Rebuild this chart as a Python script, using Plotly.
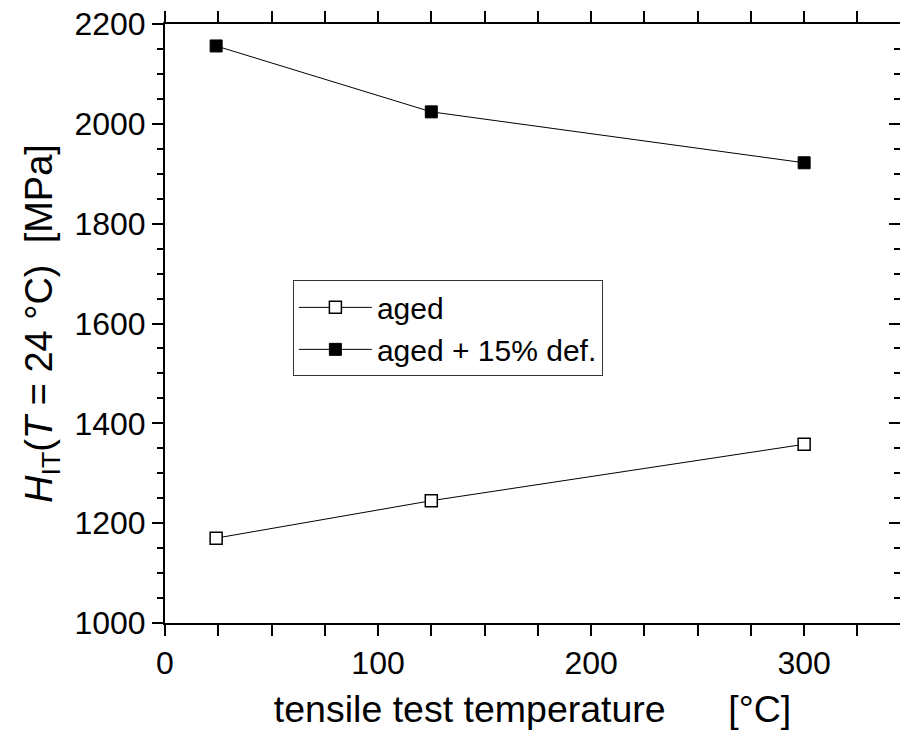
import plotly.graph_objects as go

temperature = [24, 125, 300]
aged = [1170, 1245, 1358]
aged_def = [2156, 2024, 1922]

series_names = ["aged", "aged + 15% def."]

NB = "\u00a0"
x_title = "tensile test temperature" + NB * 6 + "[°C]"
y_title = "<i>H</i><sub>IT</sub>(<i>T</i> = 24 °C)" + NB * 2 + "[MPa]"

FONT = "Liberation Sans, Arial, sans-serif"

fig = go.Figure()
fig.add_trace(go.Scatter(
    x=temperature, y=aged, name=series_names[0], mode="lines+markers",
    line=dict(color="black", width=1),
    marker=dict(symbol="square", size=12, color="white", line=dict(color="black", width=1.5)),
))
fig.add_trace(go.Scatter(
    x=temperature, y=aged_def, name=series_names[1], mode="lines+markers",
    line=dict(color="black", width=1),
    marker=dict(symbol="square", size=12, color="black", line=dict(color="black", width=1)),
))

axis_common = dict(
    showgrid=False, zeroline=False, linecolor="black", linewidth=2,
    tickcolor="black", tickwidth=2, ticklen=11, automargin=False,
)
label_font = dict(family=FONT, size=32, color="black")

# page body has an 8px margin, so the figure is sized to fit inside the window
fig.update_layout(
    width=893, height=724,
    margin=dict(l=157, r=1, t=16, b=109),
    paper_bgcolor="white", plot_bgcolor="white",
    font=dict(family=FONT, color="black"),
    showlegend=True,
    legend=dict(
        x=0.174, y=0.572, xanchor="left", yanchor="top",
        bgcolor="white", bordercolor="#333333", borderwidth=1,
        font=dict(family=FONT, size=30, color="black"),
        tracegroupgap=0, itemwidth=73,
    ),
    xaxis=dict(
        range=[0, 345], tickvals=[0, 100, 200, 300], ticks="outside",
        showline=True, mirror="allticks", tickfont=label_font, ticklabeloverflow="allow",
        minor=dict(dtick=25, ticklen=6, tickwidth=2, tickcolor="black", ticks="outside"),
        title=dict(text=x_title, font=dict(family=FONT, size=37.5, color="black")),
        **axis_common,
    ),
    yaxis=dict(
        range=[1000, 2200], dtick=200, ticks="outside", showline=True,
        tickfont=label_font, ticklabeloverflow="allow",
        minor=dict(dtick=50, ticklen=6, tickwidth=2, tickcolor="black", ticks="outside"),
        title=dict(text=y_title, font=dict(family=FONT, size=38, color="black"), standoff=10),
        **axis_common,
    ),
    yaxis2=dict(
        overlaying="y", side="right", anchor="x", range=[1000, 2200], dtick=200,
        ticks="inside", showticklabels=False, showline=False, tickfont=dict(size=8),
        minor=dict(dtick=50, ticklen=6, tickwidth=2, tickcolor="black", ticks="inside"),
        **axis_common,
    ),
)

# invisible helper trace so the right-hand frame axis is drawn
fig.add_trace(go.Scatter(x=[temperature[0]], y=[aged[0]], xaxis="x", yaxis="y2",
                         mode="markers", marker=dict(opacity=0), showlegend=False,
                         hoverinfo="skip"))

fig.write_html("out.html")
